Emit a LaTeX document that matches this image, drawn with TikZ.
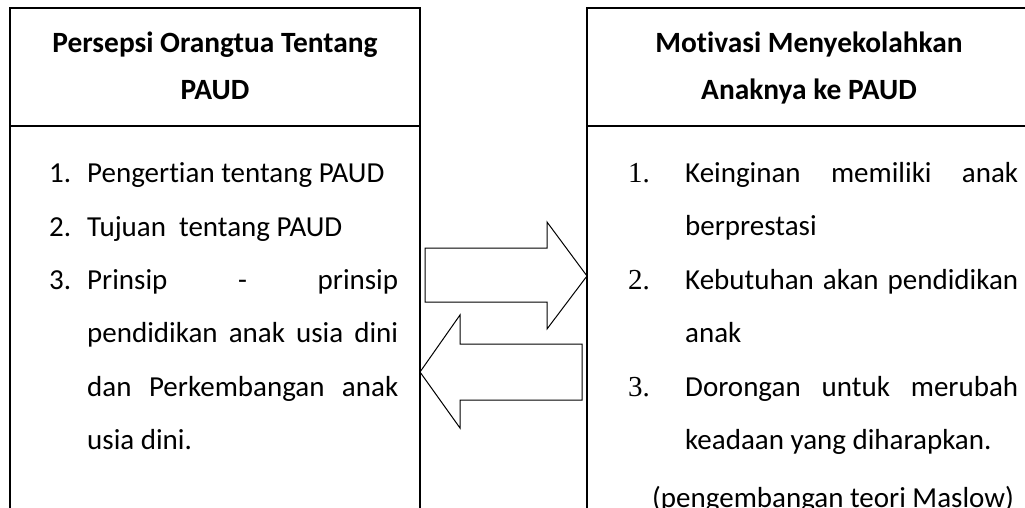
\documentclass[tikz,border=0pt]{standalone}
\usepackage{fontspec}
\setmainfont{Carlito}[Ligatures={NoCommon}]
\newfontfamily\numfont{Liberation Serif}
\usetikzlibrary{positioning}

\newcommand{\jline}[2][311pt]{\hbox to #1{#2}}

\begin{document}
\begin{tikzpicture}[x=1pt, y=-1pt,
    ln/.style={line width=1.3pt},
    arr/.style={line width=1pt, line join=miter},
    hd/.style={font=\bfseries\fontsize{29.4}{47}\selectfont, anchor=base, inner sep=0pt},
    txt/.style={font=\fontsize{29}{53}\selectfont, anchor=base west, inner sep=0pt},
    numr/.style={font=\numfont\fontsize{29}{53}\selectfont, anchor=base west, inner sep=0pt}]
    \useasboundingbox (0,0) rectangle (1025,508);
    \clip (0,0) rectangle (1025,508);
    \draw[ln] (10,510) -- (10,8) -- (420,8) -- (420,510);
    \draw[ln] (10,126) -- (420,126);
    \draw[ln] (587,510) -- (587,8) -- (1031,8) -- (1031,510);
    \draw[ln] (587,126) -- (1031,126);
    \node[hd] (h1) at (215,53) {Persepsi Orangtua Tentang};
    \node[hd] (h2) at (215,100) {PAUD};
    \node[hd] (h3) at (809,53) {Motivasi Menyekolahkan};
    \node[hd] (h4) at (809,100) {Anaknya ke PAUD};
    \node[txt] (n1) at (49,182) {1.};
    \node[txt] (l1) at (87,182) {Pengertian tentang PAUD};
    \node[txt] (n2) at (49,236) {2.};
    \node[txt] (l2) at (87,236) {Tujuan\ \ tentang PAUD};
    \node[txt] (n3) at (49,289) {3.};
    \node[txt] (l3) at (87,289) {\jline{Prinsip\hfill-\hfill prinsip}};
    \node[txt] (l4) at (87,342) {\jline{pendidikan\hfill anak\hfill usia\hfill dini}};
    \node[txt] (l5) at (87,396) {\jline{dan\hfill Perkembangan\hfill anak}};
    \node[txt] (l6) at (87,449) {usia dini.};
    \node[numr] (m1) at (628,182) {1.};
    \node[txt] (r1) at (685,182) {\jline[333pt]{Keinginan\hfill memiliki\hfill anak}};
    \node[txt] (r2) at (685,235) {berprestasi};
    \node[numr] (m2) at (628,289) {2.};
    \node[txt] (r3) at (685,289) {\jline[333pt]{Kebutuhan\hfill akan\hfill pendidikan}};
    \node[txt] (r4) at (685,342) {anak};
    \node[numr] (m3) at (628,396) {3.};
    \node[txt] (r5) at (685,396) {\jline[333pt]{Dorongan\hfill untuk\hfill merubah}};
    \node[txt] (r6) at (685,449) {keadaan yang diharapkan.};
    \node[txt] (r7) at (652,507) {(pengembangan teori Maslow)};
    \draw[arr] (425,248) -- (547,248) -- (547,222) -- (587,276) -- (547,329) -- (547,302) -- (425,302) -- cycle;
    \draw[arr] (582,344) -- (460,344) -- (460,315) -- (420,372) -- (460,428) -- (460,400) -- (582,400) -- cycle;
\end{tikzpicture}
\end{document}
